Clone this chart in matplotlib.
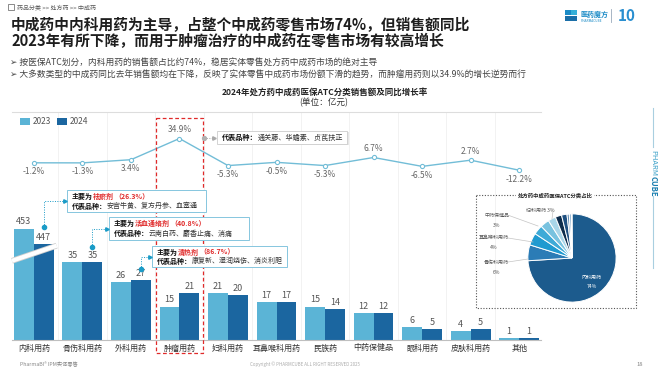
import matplotlib
matplotlib.use("Agg")
import matplotlib.pyplot as plt
from matplotlib.patches import Rectangle
import numpy as np

plt.rcParams['font.family'] = ['Noto Sans CJK SC', 'DejaVu Sans']

# ---------------- data ----------------
categories = ["内科用药", "骨伤科用药", "外科用药", "肿瘤用药", "妇科用药", "耳鼻喉科用药",
              "民族药", "中药保健品", "眼科用药", "皮肤科用药", "其他"]
sales_2023 = [453, 35, 26, 15, 21, 17, 15, 12, 6, 4, 1]
sales_2024 = [447, 35, 27, 21, 20, 17, 14, 12, 5, 5, 1]
growth = [-1.2, -1.3, 3.4, 34.9, -5.3, -0.5, -5.3, 6.7, -6.5, 2.7, -12.2]
growth_label_above = [False, False, False, True, False, False, False, True, False, True, False]
broken_heights = [50, 43]   # drawn (truncated) heights of the 内科用药 bars, 2023 / 2024
series_names = ["2023", "2024"]
pie_labels = [("骨伤科用药", "6%"), ("耳鼻喉科用药", "4%"), ("中药保健品", "3%"), ("妇科用药", "3%"),
              ("内科用药", "74%")]

W, H = 660, 374
fig = plt.figure(figsize=(6.6, 3.74), dpi=100)
fig.patch.set_facecolor('white')

C23 = '#5bb4d6'
C24 = '#1b66a0'
CLINE = '#72bdd7'
TEAL = '#1a9bc7'
RED = '#e02a2a'

# overlay axes in pixel coordinates
ov = fig.add_axes([0, 0, 1, 1], zorder=5)
ov.set_xlim(0, W)
ov.set_ylim(H, 0)
ov.axis('off')
ov.patch.set_alpha(0)
renderer = fig.canvas.get_renderer()


def rich(x, y, segs, size, va='center'):
    cx = x
    for s, color, weight in segs:
        t = ov.text(cx, y, s, fontsize=size, color=color, fontweight=weight, ha='left', va=va)
        bb = t.get_window_extent(renderer=renderer)
        cx += bb.width
    return cx


def to_px(a, xd, yd):
    return ov.transData.inverted().transform(a.transData.transform((xd, yd)))


# ---------------- header ----------------
ov.add_patch(Rectangle((8, 4), 6, 6, facecolor='none', edgecolor='#777', lw=0.6))
ov.text(17, 7.5, "药品分类 >> 处方药 >> 中成药", fontsize=4.3, color='#555', va='center')
ov.text(11, 25, "中成药中内科用药为主导，占整个中成药零售市场74%，但销售额同比",
        fontsize=10.6, fontweight='bold', color='#1e1e1e', va='center')
ov.text(11, 41, "2023年有所下降，而用于肿瘤治疗的中成药在零售市场有较高增长",
        fontsize=10.6, fontweight='bold', color='#1e1e1e', va='center')
ov.text(10, 63.5, "➢ 按医保ATC划分，内科用药的销售额占比约74%，稳居实体零售处方药中成药市场的绝对主导",
        fontsize=6.3, color='#444', va='center')
ov.text(10, 75.5, "➢ 大多数类型的中成药同比去年销售额均在下降，反映了实体零售中成药市场份额下滑的趋势，而肿瘤用药则以34.9%的增长逆势而行",
        fontsize=6.3, color='#444', va='center')

# logo
ov.add_patch(Rectangle((565, 10), 5.5, 5, facecolor='#1b8bc6', lw=0))
ov.add_patch(Rectangle((571, 10), 5.5, 5, facecolor='#36b0d8', lw=0))
ov.add_patch(Rectangle((565, 15.5), 11.5, 5, facecolor='#1b6fa8', lw=0))
ov.text(580, 14, "医药魔方", fontsize=5, fontweight='bold', color='#1b8bc6', va='center')
ov.text(581, 20.5, "PHARMACUBE", fontsize=2.3, color='#1b8bc6', va='center')
ov.plot([611, 611], [9, 22], color='#9ab', lw=0.6)
ov.text(618, 16, "10", fontsize=11, fontweight='bold', color='#2a8fd0', va='center')

# chart title
ov.text(325, 92, "2024年处方药中成药医保ATC分类销售额及同比增长率", fontsize=6.1,
        fontweight='bold', color='#222', ha='center', va='center')
ov.text(324, 103, "(单位：亿元)", fontsize=6.2, color='#333', ha='center', va='center')

# ---------------- main chart ----------------
L, R, T, B = 12, 541, 112, 340
ax = fig.add_axes([L / W, 1 - B / H, (R - L) / W, (B - T) / H], zorder=1)
x = np.arange(len(categories))
bw = 0.41
px_per_unit = 2.23
disp23 = [broken_heights[0] if i == 0 else v for i, v in enumerate(sales_2023)]
disp24 = [broken_heights[1] if i == 0 else v for i, v in enumerate(sales_2024)]
ax.bar(x - bw / 2, disp23, bw, color=C23, zorder=2)
ax.bar(x + bw / 2, disp24, bw, color=C24, zorder=2)
ax.set_xlim(-0.45, len(categories) - 0.55)
ax.set_ylim(0, (B - T) / px_per_unit)
for s in ['left', 'right']:
    ax.spines[s].set_visible(False)
ax.spines['top'].set_color('#dddddd')
ax.spines['top'].set_linewidth(0.8)
ax.spines['bottom'].set_color('#bfbfbf')
ax.spines['bottom'].set_linewidth(0.8)
ax.set_yticks([])
ax.set_xticks(x, categories, fontsize=5.8, color='#333')
ax.tick_params(axis='x', length=0, pad=2.5)
ax.vlines(x[:-1] + 0.5, 0, (B - T) / px_per_unit, color='#f0f0f0', lw=0.6, zorder=0)

for xi, d, v in zip(x - bw / 2, disp23, sales_2023):
    ax.annotate(f"{v}", (xi, d), xytext=(0, 1.5), textcoords='offset points',
                ha='center', va='bottom', fontsize=6.5, color='#555')
for xi, d, v in zip(x + bw / 2, disp24, sales_2024):
    ax.annotate(f"{v}", (xi, d), xytext=(0, 1.5), textcoords='offset points',
                ha='center', va='bottom', fontsize=6.5, color='#555')

# break mark on the 内科用药 bars
ax.plot([-bw - 0.04, bw + 0.06], [35.5, 42.3], color='#cfcfcf', lw=4.2, zorder=3,
        solid_capstyle='butt', clip_on=False)
ax.plot([-bw - 0.04, bw + 0.06], [35.5, 42.3], color='white', lw=3, zorder=4,
        solid_capstyle='butt', clip_on=False)

# growth line
ax2 = ax.twinx()
ax2.set_ylim(-264.5, 74.3)
ax2.axis('off')
ax2.plot(x, growth, color=CLINE, lw=1, marker='o', ms=3, mfc='white', mec=CLINE, mew=0.8, zorder=3)
for xi, g, above in zip(x, growth, growth_label_above):
    ax2.annotate(f"{g}%", (xi, g), xytext=(0, 6.5 if above else -6.5), textcoords='offset points',
                 ha='center', va='center', fontsize=6, color='#666')

# legend
ov.add_patch(Rectangle((20, 117.5), 10, 7, facecolor=C23, lw=0))
ov.text(33, 121, series_names[0], fontsize=6, color='#555', va='center')
ov.add_patch(Rectangle((57, 117.5), 10, 7, facecolor=C24, lw=0))
ov.text(70, 121, series_names[1], fontsize=6, color='#555', va='center')

# red dashed highlight box around 肿瘤用药
xl, _ = to_px(ax, 3 - 0.485, 0)
xr, _ = to_px(ax, 3 + 0.485, 0)
ov.add_patch(Rectangle((xl, 118), xr - xl, 353 - 118, facecolor='none', edgecolor=RED,
                       lw=0.9, ls=(0, (3, 2))))

# annotation: 肿瘤
ov.plot([xr + 1, 213], [137.5, 137.5], color='#aaa', lw=0.7, ls=(0, (1, 1.5)))
ov.plot([xr + 1], [137.5], marker='o', ms=2.8, color='#b0b0b0')
ov.plot([214], [137.5], marker='>', ms=2.5, color='#aaa')
ov.add_patch(Rectangle((218.5, 132), 130, 13, facecolor='#e6e6e6', edgecolor='none', lw=0))
ov.add_patch(Rectangle((217, 131), 130, 13, facecolor='white', edgecolor='#cccccc', lw=0.6))
rich(222, 137.5, [("代表品种：", '#111', 'bold'), ("通关藤、华蟾素、贞芪扶正", '#333', 'normal')], 5.1)

# annotation boxes for 内科 / 骨伤科 / 外科
boxes = [
    (0, 67, 190, 139, 22, 17, "祛瘀剂", "（26.3%）", "安宫牛黄、复方丹参、血塞通"),
    (1, 109, 217, 140, 23, 15, "活血通络剂", "（40.8%）", "云南白药、麝香止痛、消痛"),
    (2, 152, 246, 135, 21, 11, "清热剂", "（86.7%）", "康复新、湿润烧伤、消炎利胆"),
]
for idx, bx, by, bwid, bh, off, main, pct, reps in boxes:
    dx, dy = to_px(ax, idx + bw / 2, disp24[idx])
    dy = dy - off
    cy = by + bh / 2
    ov.plot([dx, dx, bx - 3], [dy, cy, cy], color=TEAL, lw=0.7, ls=(0, (1, 1.5)))
    ov.plot([dx], [dy], marker='o', ms=3, color=TEAL)
    ov.plot([bx - 2.5], [cy], marker='>', ms=2.5, color=TEAL)
    ov.add_patch(Rectangle((bx, by), bwid, bh, facecolor='white', edgecolor='#86c6de', lw=0.7))
    rich(bx + 5, by + bh * 0.29, [("主要为", '#111', 'bold'), (main, RED, 'bold'), (pct, RED, 'bold')], 5.0)
    rich(bx + 5, by + bh * 0.73, [("代表品种：", '#111', 'bold'), (reps, '#333', 'normal')], 5.0)

# ---------------- pie inset ----------------
ov.add_patch(Rectangle((476, 195), 160, 113, facecolor='none', edgecolor='#555', lw=0.8, ls=(0, (1, 1.5))))
ov.text(555, 195.5, "处方药中成药医保ATC分类占比", fontsize=3.9, fontweight='bold', color='#222',
        ha='center', va='center', bbox=dict(facecolor='white', edgecolor='none', pad=1.5))
pax = fig.add_axes([527 / W, 1 - 303 / H, 90 / W, 90 / H], zorder=3)
pie_colors = ['#1c5b8d', '#2b7cb6', '#1f9ad0', '#3eaad7', '#78c2df', '#a9d6e9',
              '#0d2d4d', '#1f5081', '#5d8ab2', '#9dbcd6', '#cfe0ec']
pax.pie(sales_2024, colors=pie_colors, startangle=90, counterclock=False, radius=1,
        wedgeprops=dict(edgecolor='white', linewidth=0.7))
pax.set_xlim(-1.02, 1.02)
pax.set_ylim(-1.02, 1.02)
pax.set_aspect('equal')
pax.axis('off')

lab_pos = [(496, 262, 272), (494, 237.5, 247.5), (497, 215, 225.5)]
for (name, pct), (lx, ly1, ly2) in zip(pie_labels[:3], lab_pos):
    ov.text(lx, ly1, name, fontsize=3.6, color='#555', ha='center', va='center')
    ov.text(lx, ly2, pct, fontsize=3.6, color='#555', ha='center', va='center')
ov.text(540, 210.5, f"{pie_labels[3][0]} {pie_labels[3][1]}", fontsize=3.6, color='#555',
        ha='center', va='center')
ov.text(592, 277, pie_labels[4][0], fontsize=3.6, color='white', ha='center', va='center', zorder=6)
ov.text(592, 286.5, pie_labels[4][1], fontsize=3.6, color='white', ha='center', va='center', zorder=6)
for (x0, y0), (x1, y1) in [((508, 262), (528, 259)), ((508, 238), (533, 242)),
                           ((509, 215.5), (538, 226)), ((553, 211), (552, 219))]:
    ov.plot([x0, x1], [y0, y1], color='#c4c4c4', lw=0.5)

# ---------------- right side brand ----------------
ov.plot([653, 653], [108, 147], color='#a9cfe0', lw=0.8)
ov.plot([653, 653], [196, 268], color='#a9cfe0', lw=0.8)
t1 = ov.text(653, 150, "PHARM", fontsize=5.5, color='#3aa0c8', rotation=-90, ha='center', va='top')
h1 = t1.get_window_extent(renderer=renderer).height
ov.text(653, 150 + h1, "CUBE", fontsize=5.5, color='#1a7fb0', fontweight='bold', rotation=-90,
        ha='center', va='top')

# ---------------- footer ----------------
ov.text(20, 364, "PharmaBI® IPM实体零售", fontsize=3.8, color='#888', va='center')
ov.text(305, 364, "Copyright © PHARMCUBE ALL RIGHT RESERVED 2025", fontsize=3.2, color='#aaa',
        ha='center', va='center')
ov.text(640, 364, "18", fontsize=4.2, color='#888', ha='center', va='center')

fig.savefig("out.png", dpi=100, facecolor='white')
